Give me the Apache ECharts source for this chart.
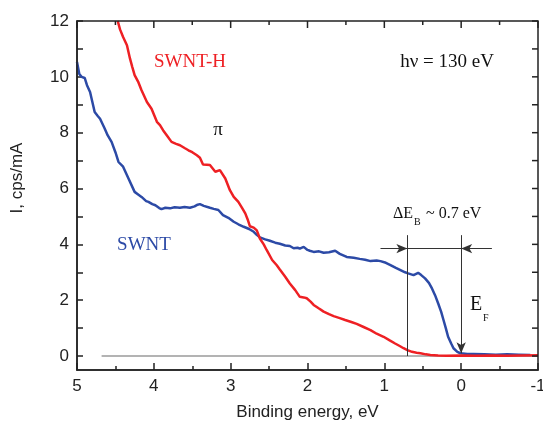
<!DOCTYPE html>
<html>
<head>
<meta charset="utf-8">
<script src="https://cdn.jsdelivr.net/npm/echarts@6/dist/echarts.min.js"></script>
<style>html,body{margin:0;padding:0;background:#fff;}#c{width:543px;height:425px;}</style>
</head>
<body>
<div id="c"></div>
<script>
// ---- data (binding energy eV, intensity cps/mA) ----
var swnt = [[5.00,10.53],[4.97,10.1],[4.94,10.0],[4.90,9.96],[4.87,9.7],[4.83,9.46],[4.80,9.1],[4.77,8.74],[4.73,8.6],[4.70,8.5],[4.64,8.15],[4.60,7.9],[4.55,7.67],[4.50,7.3],[4.46,6.95],[4.40,6.78],[4.33,6.36],[4.25,5.88],[4.20,5.78],[4.16,5.70],[4.10,5.55],[4.07,5.52],[4.02,5.44],[3.98,5.40],[3.93,5.30],[3.90,5.26],[3.85,5.31],[3.79,5.29],[3.73,5.33],[3.66,5.31],[3.60,5.34],[3.53,5.31],[3.47,5.36],[3.43,5.42],[3.40,5.44],[3.35,5.38],[3.27,5.31],[3.22,5.27],[3.16,5.23],[3.10,5.05],[3.03,4.95],[2.96,4.81],[2.90,4.72],[2.83,4.63],[2.76,4.55],[2.70,4.45],[2.66,4.34],[2.62,4.25],[2.55,4.18],[2.49,4.13],[2.42,4.06],[2.36,4.02],[2.29,3.96],[2.23,3.94],[2.18,3.86],[2.13,3.88],[2.10,3.85],[2.05,3.91],[2.00,3.80],[1.97,3.77],[1.92,3.73],[1.85,3.75],[1.79,3.70],[1.72,3.72],[1.64,3.77],[1.58,3.66],[1.49,3.55],[1.40,3.52],[1.32,3.48],[1.25,3.45],[1.18,3.40],[1.10,3.42],[1.05,3.40],[0.98,3.34],[0.92,3.26],[0.85,3.16],[0.79,3.08],[0.73,3.00],[0.69,2.96],[0.62,2.90],[0.56,2.98],[0.52,2.90],[0.47,2.78],[0.42,2.62],[0.38,2.42],[0.34,2.18],[0.30,1.89],[0.26,1.58],[0.23,1.29],[0.20,1.00],[0.17,0.69],[0.13,0.45],[0.10,0.28],[0.05,0.15],[0.01,0.10],[-0.08,0.07],[-0.16,0.07],[-0.30,0.06],[-0.45,0.05],[-0.60,0.06],[-0.75,0.05],[-0.90,0.04]];
var swntH = [[4.47,12.0],[4.44,11.7],[4.40,11.43],[4.35,11.13],[4.31,10.65],[4.28,10.35],[4.25,10.06],[4.20,9.8],[4.16,9.52],[4.09,9.10],[4.03,8.86],[3.96,8.39],[3.92,8.27],[3.88,8.09],[3.83,7.9],[3.77,7.67],[3.71,7.6],[3.66,7.55],[3.60,7.45],[3.55,7.37],[3.50,7.3],[3.44,7.19],[3.40,7.1],[3.36,6.86],[3.31,6.85],[3.27,6.84],[3.20,6.60],[3.14,6.66],[3.07,6.36],[3.01,5.94],[2.96,5.7],[2.90,5.52],[2.85,5.3],[2.81,5.11],[2.78,4.9],[2.75,4.65],[2.70,4.6],[2.66,4.5],[2.62,4.21],[2.57,4.0],[2.53,3.79],[2.46,3.44],[2.40,3.25],[2.36,3.10],[2.29,2.84],[2.23,2.60],[2.16,2.36],[2.10,2.12],[2.05,2.10],[2.01,2.07],[1.96,1.95],[1.92,1.83],[1.85,1.70],[1.79,1.59],[1.72,1.50],[1.66,1.43],[1.58,1.36],[1.51,1.29],[1.43,1.22],[1.36,1.15],[1.27,1.04],[1.18,0.93],[1.10,0.80],[1.01,0.69],[0.93,0.56],[0.86,0.45],[0.80,0.36],[0.75,0.28],[0.70,0.21],[0.64,0.15],[0.58,0.12],[0.53,0.10],[0.46,0.06],[0.40,0.04],[0.30,0.02],[0.19,0.01],[0.00,0.02],[-0.20,0.01],[-0.40,0.02],[-0.60,0.01],[-0.80,0.02],[-1.00,0.03]];
var baseline = [[4.68,0],[-1,0]];
var yLabelValues = [0,2,4,6,8,10,12];
var yTickValues = [0,1,2,3,4,5,6,7,8,9,10,11,12];
var xTickValues = [-1,-0.5,0,0.5,1,1.5,2,2.5,3,3.5,4,4.5,5];
var xRange = [-1, 5], yRange = [-0.5, 12];
// annotation geometry (data units)
var gapLevel = 3.85, lineTop = 4.33, gapStart = 0.7, fermi = 0.0, leftArrowFrom = 1.05, rightArrowFrom = -0.40;

var SANS = "'Liberation Sans', Arial, sans-serif";
var SERIF = "'Liberation Serif', 'Times New Roman', serif";
var AX = '#222';
var RED = '#ee2024';
var BLUE = '#2c4aa6';

var textEls = [
  {id:'t0', type:'text', x:17, y:178, rotation:Math.PI/2,
   style:{text:'I, cps/mA', fontSize:17, fontFamily:SANS, fill:AX, textAlign:'center', textVerticalAlign:'middle'}},
  {id:'t1', type:'text', x:190, y:62, style:{text:'SWNT-H', fontSize:19, fontFamily:SERIF, fill:RED, textAlign:'center', textVerticalAlign:'middle'}},
  {id:'t2', type:'text', x:218, y:130, style:{text:'π', fontSize:19, fontFamily:SERIF, fill:'#111', textAlign:'center', textVerticalAlign:'middle'}},
  {id:'t3', type:'text', x:447, y:62, style:{text:'hν = 130 eV', fontSize:19, fontFamily:SERIF, fill:'#111', textAlign:'center', textVerticalAlign:'middle'}},
  {id:'t4', type:'text', x:144, y:245, style:{text:'SWNT', fontSize:19, fontFamily:SERIF, fill:BLUE, textAlign:'center', textVerticalAlign:'middle'}},
  {id:'t5', type:'text', x:393, y:214, style:{text:'ΔE', fontSize:16, fontFamily:SERIF, fill:'#111', textAlign:'left', textVerticalAlign:'middle'}},
  {id:'t6', type:'text', x:414, y:222, style:{text:'B', fontSize:10, fontFamily:SERIF, fill:'#111', textAlign:'left', textVerticalAlign:'middle'}},
  {id:'t7', type:'text', x:426, y:214, style:{text:'~ 0.7 eV', fontSize:16, fontFamily:SERIF, fill:'#111', textAlign:'left', textVerticalAlign:'middle'}},
  {id:'t8', type:'text', x:470, y:305, style:{text:'E', fontSize:20, fontFamily:SERIF, fill:'#111', textAlign:'left', textVerticalAlign:'middle'}},
  {id:'t9', type:'text', x:483, y:318, style:{text:'F', fontSize:10, fontFamily:SERIF, fill:'#111', textAlign:'left', textVerticalAlign:'middle'}}
];

var chart = echarts.init(document.getElementById('c'));
var option = {
  animation:false,
  backgroundColor:'#fff',
  grid:{left:77, right:5, top:21, bottom:55, outerBoundsMode:'none'},
  xAxis:{
    type:'value', inverse:true, min:xRange[0], max:xRange[1], interval:1, position:'bottom',
    axisLine:{show:true, onZero:false, lineStyle:{color:AX, width:1.5}},
    axisTick:{show:true, inside:true, length:7, lineStyle:{color:AX, width:1.5}},
    minorTick:{show:true, splitNumber:2, length:4, lineStyle:{color:AX, width:1.5}},
    splitLine:{show:false},
    axisLabel:{show:true, fontSize:17, color:AX, fontFamily:SANS, margin:8},
    name:'Binding energy, eV', nameLocation:'middle', nameGap:34,
    nameTextStyle:{fontSize:17, color:AX, fontFamily:SANS}
  },
  yAxis:{
    type:'value', min:yRange[0], max:yRange[1], position:'left',
    axisLine:{show:true, onZero:false, lineStyle:{color:AX, width:1.5}},
    axisTick:{show:true, inside:true, length:6, customValues:yTickValues, lineStyle:{color:AX, width:1.5}},
    splitLine:{show:false},
    axisLabel:{show:true, customValues:yLabelValues, fontSize:17, color:AX, fontFamily:SANS, margin:8}
  },
  series:[
    {type:'line', data:baseline, showSymbol:false, z:1,
     lineStyle:{color:'#9a9a9a', width:1.5},
     markLine:{silent:true, symbol:['none','none'], label:{show:false},
       lineStyle:{color:'#333', width:1, type:'solid'},
       data:[
         [{coord:[gapStart,0]},{coord:[gapStart,lineTop]}],
         [{coord:[gapStart,gapLevel]},{coord:[fermi,gapLevel]}]
       ]}},
    {type:'line', name:'SWNT', data:swnt, showSymbol:false, z:3,
     lineStyle:{color:BLUE, width:2.5}},
    {type:'line', name:'SWNT-H', data:swntH, showSymbol:false, z:4,
     lineStyle:{color:RED, width:2.5},
     markLine:{silent:true, symbol:['none','arrow'], symbolSize:[7,11], label:{show:false},
       lineStyle:{color:'#333', width:1, type:'solid'},
       data:[
         [{coord:[leftArrowFrom,gapLevel]},{coord:[gapStart,gapLevel]}],
         [{coord:[rightArrowFrom,gapLevel]},{coord:[fermi,gapLevel]}],
         [{coord:[fermi,lineTop]},{coord:[fermi,0.1]}]
       ]}}
  ],
  graphic:textEls
};
chart.setOption(option);

// Frame (top/right) and mirrored ticks, positioned through the chart's own scales
var xL = chart.convertToPixel({xAxisIndex:0}, xRange[1]);
var xR = chart.convertToPixel({xAxisIndex:0}, xRange[0]);
var yT = chart.convertToPixel({yAxisIndex:0}, yRange[1]);
var yB = chart.convertToPixel({yAxisIndex:0}, yRange[0]);
var frameEls = [{id:'frame', type:'rect', silent:true, z:50,
  shape:{x:xL, y:yT, width:xR - xL, height:yB - yT},
  style:{fill:'transparent', stroke:AX, lineWidth:1.5}}];
xTickValues.forEach(function (v, i) {
  var px = chart.convertToPixel({xAxisIndex:0}, v);
  var len = (v % 1 === 0) ? 7 : 4;
  frameEls.push({id:'xt' + i, type:'line', silent:true, z:50,
    shape:{x1:px, y1:yT, x2:px, y2:yT + len}, style:{stroke:AX, lineWidth:1.5}});
});
yTickValues.forEach(function (v, i) {
  var py = chart.convertToPixel({yAxisIndex:0}, v);
  frameEls.push({id:'yt' + i, type:'line', silent:true, z:50,
    shape:{x1:xR, y1:py, x2:xR - 6, y2:py}, style:{stroke:AX, lineWidth:1.5}});
});
chart.setOption({graphic: textEls.concat(frameEls)});
</script>
</body>
</html>
